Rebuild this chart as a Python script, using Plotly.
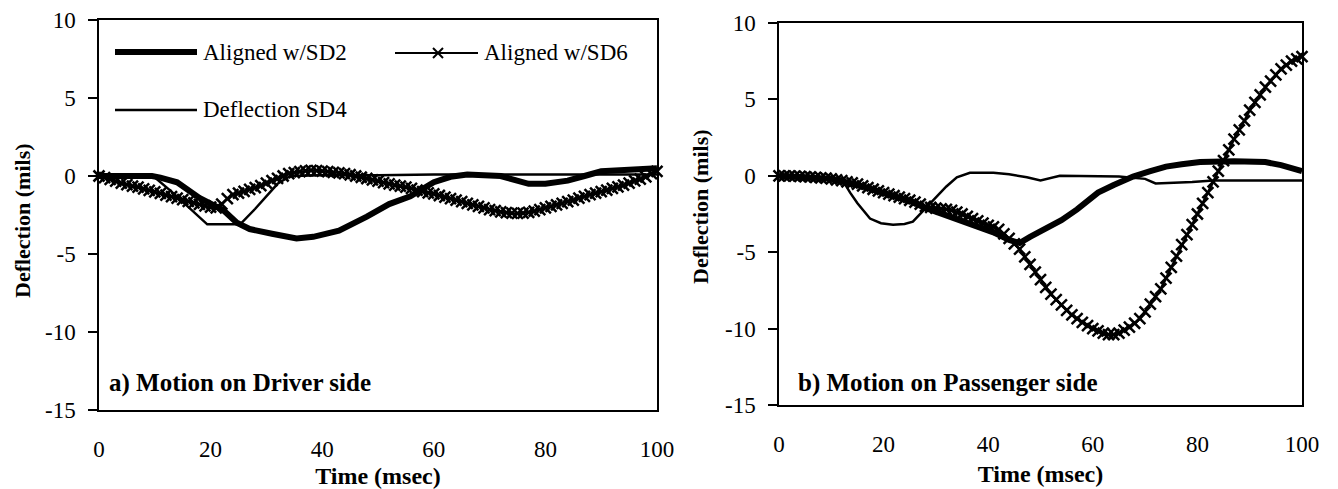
import plotly.graph_objects as go

# ---------------- data ----------------
# Panel a) Driver side
t_sd6 = list(range(0, 101))
a_sd6 = [0, -0.1, -0.22, -0.33, -0.45, -0.55, -0.65, -0.72, -0.82, -0.92,
         -1.02, -1.12, -1.22, -1.32, -1.42, -1.52, -1.62, -1.72, -1.82, -1.92,
         -2.0, -2.05, -1.8, -1.45, -1.2, -1.1, -0.98, -0.86, -0.74, -0.62,
         -0.45, -0.3, -0.15, 0.0, 0.15, 0.22, 0.28, 0.33, 0.36, 0.35,
         0.32, 0.28, 0.24, 0.2, 0.15, 0.08, 0.0, -0.08, -0.16, -0.25,
         -0.33, -0.42, -0.5, -0.58, -0.65, -0.72, -0.8, -0.9, -1.0, -1.08,
         -1.15, -1.25, -1.35, -1.45, -1.55, -1.65, -1.75, -1.85, -1.95, -2.05,
         -2.15, -2.22, -2.3, -2.35, -2.38, -2.4, -2.38, -2.33, -2.25, -2.15,
         -2.05, -1.95, -1.85, -1.75, -1.65, -1.55, -1.42, -1.3, -1.2, -1.1,
         -1.0, -0.9, -0.8, -0.7, -0.58, -0.45, -0.32, -0.2, -0.05, 0.15, 0.3]

a_t_sd2 = [0, 9.5, 11, 14, 18, 22.3, 24.7, 27, 31, 35.4, 38.4, 43, 48, 52, 55.8,
           60, 63, 66, 72, 75, 77, 80, 84, 87, 90, 95, 100]
a_sd2 = [0, 0, -0.1, -0.4, -1.4, -2.2, -3.0, -3.4, -3.7, -4.0, -3.9, -3.5, -2.6,
         -1.8, -1.3, -0.4, -0.05, 0.1, 0.0, -0.3, -0.5, -0.5, -0.3, 0.0, 0.3, 0.4, 0.5]

a_t_sd4 = [0, 9.7, 13, 16, 19.4, 25.3, 28, 32, 34.3, 40, 50, 60, 70, 80, 90, 100]
a_sd4 = [0, 0, -1.0, -2.0, -3.1, -3.1, -2.1, -0.5, 0.0, 0.05, 0.05, 0.1, 0.1, 0.1, 0.1, 0.1]

# Panel b) Passenger side
b_sd6 = [0, 0, -0.01, -0.02, -0.03, -0.05, -0.07, -0.1, -0.13, -0.16,
         -0.2, -0.26, -0.32, -0.39, -0.47, -0.55, -0.66, -0.77, -0.88, -0.99,
         -1.1, -1.2, -1.3, -1.4, -1.5, -1.6, -1.73, -1.86, -2.0, -2.06,
         -2.11, -2.16, -2.2, -2.26, -2.38, -2.5, -2.65, -2.8, -2.95, -3.1,
         -3.25, -3.35, -3.5, -3.8, -4.1, -4.45, -4.8, -5.3, -5.8, -6.3,
         -6.8, -7.3, -7.75, -8.1, -8.45, -8.8, -9.1, -9.35, -9.6, -9.8,
         -10.0, -10.15, -10.3, -10.4, -10.4, -10.3, -10.1, -9.9, -9.65, -9.35,
         -8.9, -8.4, -7.9, -7.4, -6.7, -6.0, -5.25, -4.5, -3.85, -3.2,
         -2.5, -1.8, -1.1, -0.4, 0.3, 1.0, 1.7, 2.4, 3.0, 3.6,
         4.3, 4.8, 5.3, 5.8, 6.2, 6.6, 7.0, 7.25, 7.5, 7.65, 7.8]

b_t_sd2 = [0, 10, 15, 20, 25, 28, 32, 35, 38, 41, 44, 46, 48, 51, 54, 57, 61, 64,
           67.7, 71, 74, 77, 80.5, 87, 93, 96, 98, 100]
b_sd2 = [0, -0.2, -0.6, -1.15, -1.65, -2.1, -2.6, -3.0, -3.35, -3.7, -4.2, -4.4,
         -4.0, -3.5, -2.9, -2.2, -1.1, -0.6, -0.05, 0.3, 0.6, 0.75, 0.9, 0.95,
         0.9, 0.7, 0.5, 0.3]

b_t_sd4 = [0, 12, 13.6, 15, 17.4, 19.5, 21.8, 24, 25.6, 27, 28.9, 32, 34, 36.5, 41,
           44, 47.4, 50, 53.7, 60, 65, 70, 72, 79, 83, 100]
b_sd4 = [0, -0.2, -1.1, -1.8, -2.8, -3.1, -3.2, -3.15, -3.0, -2.5, -1.8, -0.7, -0.1,
         0.2, 0.2, 0.1, -0.1, -0.3, 0.0, -0.05, -0.05, -0.2, -0.5, -0.4, -0.3, -0.3]

series_names = ["Aligned w/SD2", "Aligned w/SD6", "Deflection SD4"]
panel_labels = ["a) Motion on Driver side", "b) Motion on Passenger side"]
x_title = "Time (msec)"
y_title = "Deflection (mils)"
x_ticks = [0, 20, 40, 60, 80, 100]
y_ticks = [-15, -10, -5, 0, 5, 10]
y_tick_text = ["-15", "-10", "-5", "0", "5", "10"]

# ---------------- figure ----------------
W, H = 1338, 489
FONT = "Liberation Serif"
fig = go.Figure()

def add_panel(xa, ya, t6, v6, t2, v2, t4, v4):
    fig.add_trace(go.Scatter(x=t4, y=v4, mode="lines", xaxis=xa, yaxis=ya,
                             line=dict(color="black", width=2.5), showlegend=False,
                             name=series_names[2]))
    fig.add_trace(go.Scatter(x=t2, y=v2, mode="lines", xaxis=xa, yaxis=ya,
                             line=dict(color="black", width=6), showlegend=False,
                             name=series_names[0]))
    fig.add_trace(go.Scatter(x=t6, y=v6, mode="lines+markers", xaxis=xa, yaxis=ya,
                             line=dict(color="black", width=2.5),
                             marker=dict(symbol="x-thin", size=11,
                                         line=dict(color="black", width=2.5)),
                             cliponaxis=False, showlegend=False,
                             name=series_names[1]))

add_panel("x", "y", t_sd6, a_sd6, a_t_sd2, a_sd2, a_t_sd4, a_sd4)
add_panel("x2", "y2", t_sd6, b_sd6, b_t_sd2, b_sd2, b_t_sd4, b_sd4)

def px_x(p):
    return p / W

def px_y(p):
    return 1 - p / H

axis_common_x = dict(range=[0, 100], tickvals=x_ticks, ticks="", showgrid=False,
                     zeroline=False, showline=True, linecolor="black", linewidth=1.5,
                     mirror=True, ticklabelstandoff=18,
                     tickfont=dict(family=FONT, size=23, color="black"),
                     title=dict(text="<b>" + x_title + "</b>", standoff=9,
                                font=dict(family=FONT, size=24, color="black")))
axis_common_y = dict(range=[-15, 10], tickvals=y_ticks, ticktext=y_tick_text,
                     ticks="outside", ticklen=9,
                     tickcolor="black", tickwidth=1.5, showgrid=False, zeroline=False,
                     showline=True, linecolor="black", linewidth=1.5, mirror=True,
                     ticklabelstandoff=8,
                     tickfont=dict(family=FONT, size=23, color="black"))

fig.update_layout(
    width=W, height=H,
    margin=dict(l=0, r=0, t=0, b=0, autoexpand=False),
    paper_bgcolor="white", plot_bgcolor="white",
    font=dict(family=FONT, color="black"),
    xaxis=dict(domain=[px_x(99), px_x(657)], anchor="y", **axis_common_x),
    yaxis=dict(domain=[px_y(410), px_y(20)], anchor="x", **axis_common_y),
    xaxis2=dict(domain=[px_x(779), px_x(1302)], anchor="y2", **axis_common_x),
    yaxis2=dict(domain=[px_y(405), px_y(23)], anchor="x2", **axis_common_y),
)

# ---------------- legend (panel a) ----------------
shapes = []
annotations = []
shapes.append(dict(type="line", xref="paper", yref="paper",
                   x0=px_x(115), x1=px_x(197), y0=px_y(52), y1=px_y(52),
                   line=dict(color="black", width=6)))
shapes.append(dict(type="line", xref="paper", yref="paper",
                   x0=px_x(395), x1=px_x(478), y0=px_y(53), y1=px_y(53),
                   line=dict(color="black", width=2)))
mx, my, ms = 438, 53, 5
shapes.append(dict(type="line", xref="paper", yref="paper",
                   x0=px_x(mx - ms), x1=px_x(mx + ms), y0=px_y(my - ms), y1=px_y(my + ms),
                   line=dict(color="black", width=2)))
shapes.append(dict(type="line", xref="paper", yref="paper",
                   x0=px_x(mx - ms), x1=px_x(mx + ms), y0=px_y(my + ms), y1=px_y(my - ms),
                   line=dict(color="black", width=2)))
shapes.append(dict(type="line", xref="paper", yref="paper",
                   x0=px_x(115), x1=px_x(197), y0=px_y(110), y1=px_y(110),
                   line=dict(color="black", width=2.5)))

for txt, x, y in [(series_names[0], 201, 52), (series_names[1], 482, 53),
                  (series_names[2], 201, 110)]:
    annotations.append(dict(text=txt, xref="paper", yref="paper", x=px_x(x), y=px_y(y),
                            xanchor="left", yanchor="middle", showarrow=False,
                            font=dict(family=FONT, size=23, color="black")))

annotations.append(dict(text="<b>" + panel_labels[0] + "</b>", xref="paper", yref="paper",
                        x=px_x(107), y=px_y(383), xanchor="left", yanchor="middle",
                        showarrow=False, font=dict(family=FONT, size=25, color="black")))
annotations.append(dict(text="<b>" + panel_labels[1] + "</b>", xref="paper", yref="paper",
                        x=px_x(796), y=px_y(383), xanchor="left", yanchor="middle",
                        showarrow=False, font=dict(family=FONT, size=25, color="black")))

# y-axis titles
for x, y in [(22, 221), (700, 207)]:
    annotations.append(dict(text="<b>" + y_title + "</b>", xref="paper", yref="paper",
                            x=px_x(x), y=px_y(y), xanchor="center", yanchor="middle",
                            textangle=-90, showarrow=False,
                            font=dict(family=FONT, size=22, color="black")))

fig.update_layout(shapes=shapes, annotations=annotations)
fig.write_html("out.html", config={"displayModeBar": False},
               post_script="document.body.style.margin='0';document.body.style.overflow='hidden';")
